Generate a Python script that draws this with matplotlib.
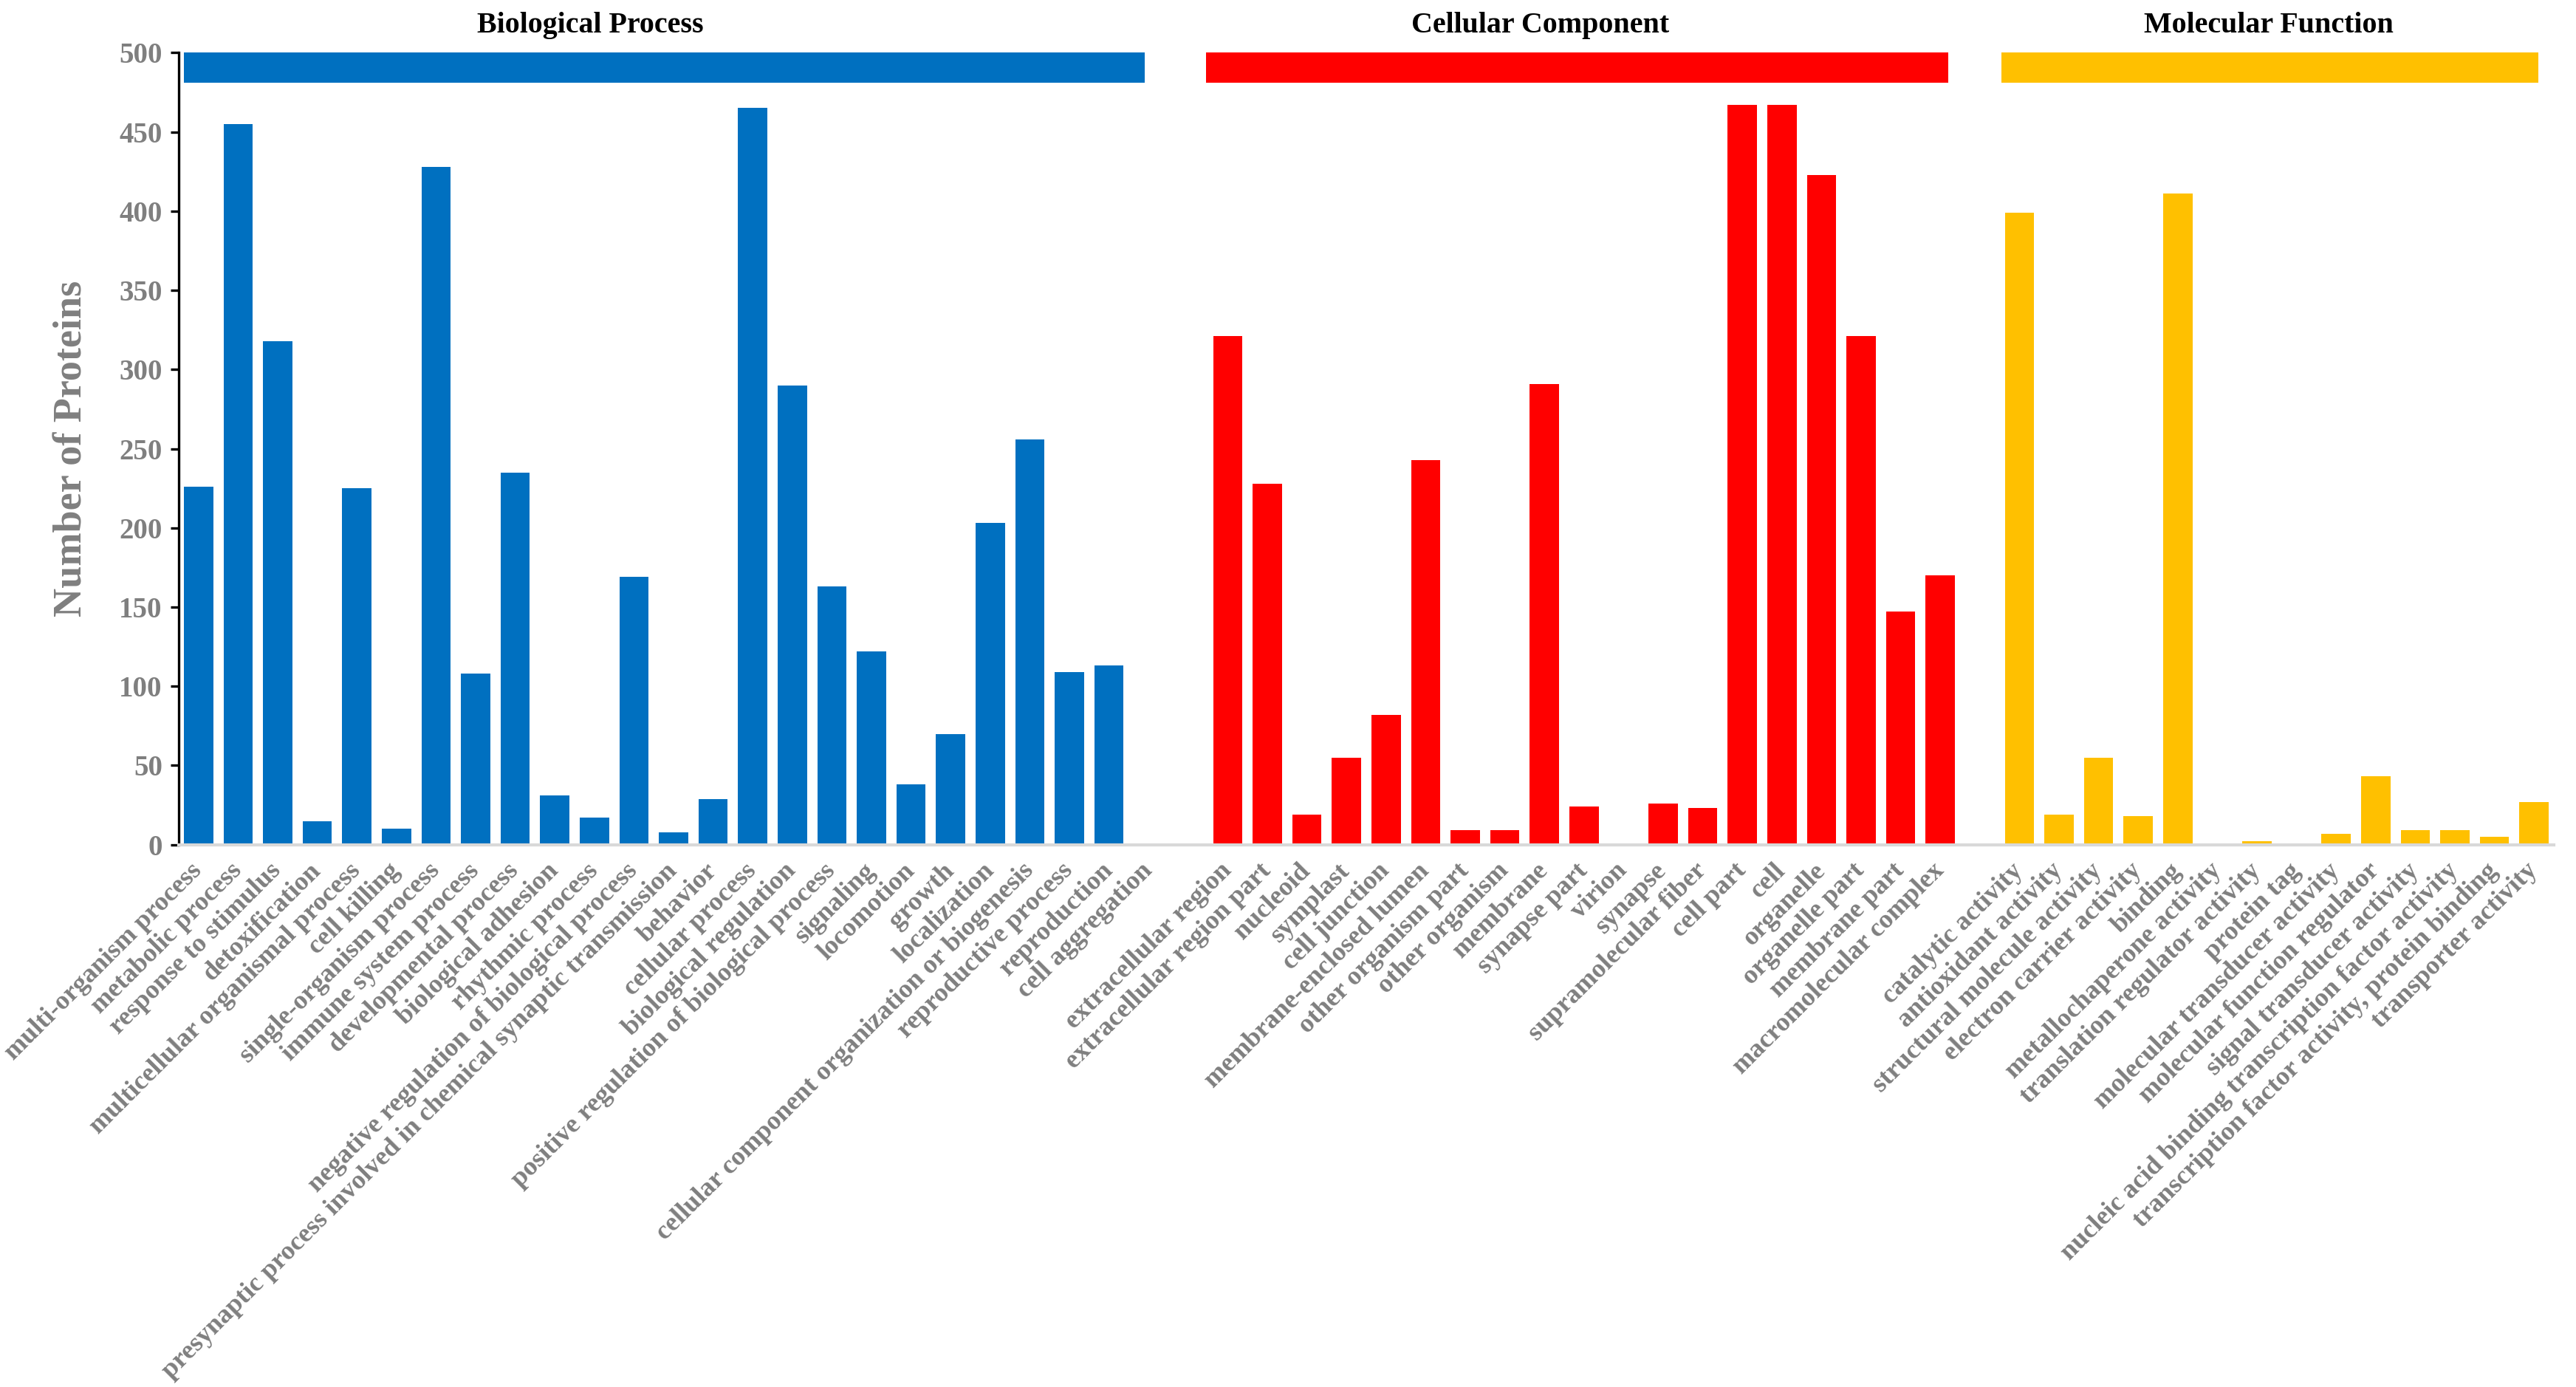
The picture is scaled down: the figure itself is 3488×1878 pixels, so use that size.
import numpy as np
import matplotlib
matplotlib.use("Agg")
import matplotlib.pyplot as plt
from matplotlib.patches import Rectangle

plt.rcParams['font.family'] = ['Liberation Serif', 'DejaVu Serif']
plt.rcParams['font.weight'] = 'bold'

# ---- data ----
bp_terms = ["multi-organism process", "metabolic process", "response to stimulus",
            "detoxification", "multicellular organismal process", "cell killing",
            "single-organism process", "immune system process", "developmental process",
            "biological adhesion", "rhythmic process",
            "negative regulation of biological process",
            "presynaptic process involved in chemical synaptic transmission",
            "behavior", "cellular process", "biological regulation",
            "positive regulation of biological process", "signaling", "locomotion",
            "growth", "localization", "cellular component organization or biogenesis",
            "reproductive process", "reproduction", "cell aggregation"]
bp_counts = [226, 455, 318, 15, 225, 10, 428, 108, 235, 31, 17, 169, 8, 29, 465,
             290, 163, 122, 38, 70, 203, 256, 109, 113, 1]

cc_terms = ["extracellular region", "extracellular region part", "nucleoid", "symplast",
            "cell junction", "membrane-enclosed lumen", "other organism part",
            "other organism", "membrane", "synapse part", "virion", "synapse",
            "supramolecular fiber", "cell part", "cell", "organelle", "organelle part",
            "membrane part", "macromolecular complex"]
cc_counts = [321, 228, 19, 55, 82, 243, 9, 9, 291, 24, 1, 26, 23, 467, 467, 423,
             321, 147, 170]

mf_terms = ["catalytic activity", "antioxidant activity", "structural molecule activity",
            "electron carrier activity", "binding", "metallochaperone activity",
            "translation regulator activity", "protein tag",
            "molecular transducer activity", "molecular function regulator",
            "signal transducer activity",
            "nucleic acid binding transcription factor activity",
            "transcription factor activity, protein binding", "transporter activity"]
mf_counts = [399, 19, 55, 18, 411, 1, 2, 1, 7, 43, 9, 9, 5, 27]

groups = ["Biological Process", "Cellular Component", "Molecular Function"]
colors = ["#0070C0", "#FF0000", "#FFC000"]

grey = "#7F7F7F"

fig = plt.figure(figsize=(17.44, 9.39), dpi=200)
ax = fig.add_axes([0.0694, 0.391, 0.922, 0.571])

terms_all = [bp_terms, cc_terms, mf_terms]
counts_all = [bp_counts, cc_counts, mf_counts]

ticks = []
labels = []
start = 0
for g, (terms, counts, col) in enumerate(zip(terms_all, counts_all, colors)):
    x = np.arange(start, start + len(terms))
    ax.bar(x, counts, width=0.74, color=col, edgecolor='none', zorder=2)
    ticks += list(x)
    labels += terms
    # group header strip and title
    if g == 0:
        x0, x1, tx = x[0] - 0.37, x[-1] - 0.1, 9.9
    elif g == 1:
        x0, x1, tx = x[0] - 0.55, x[-1] + 0.2, 33.9
    else:
        x0, x1, tx = x[0] - 0.45, x[-1] + 0.1, 52.3
    ax.add_patch(Rectangle((x0, 481), x1 - x0, 19, facecolor=col,
                           edgecolor='none', clip_on=False, zorder=3))
    ax.text(tx, 517, groups[g], ha='center', va='center', fontsize=14.4,
            fontweight='bold', color='black')
    start += len(terms) + 1

ax.set_xlim(-0.5, start - 1.5)
ax.set_ylim(0, 500)
ax.set_yticks(np.arange(0, 501, 50))
ax.tick_params(axis='y', labelsize=14, labelcolor=grey, length=4, width=1.2,
               color='black', pad=4)
ax.set_xticks(ticks)
ax.set_xticklabels(labels, rotation=45, ha='right', va='center',
                   rotation_mode='anchor', fontsize=13, color=grey)
ax.tick_params(axis='x', length=0, pad=11)

ax.spines['top'].set_visible(False)
ax.spines['right'].set_visible(False)
ax.spines['left'].set_color('black')
ax.spines['left'].set_linewidth(1.2)
ax.spines['bottom'].set_color('#D9D9D9')
ax.spines['bottom'].set_linewidth(1.5)

ax.set_ylabel("Number of Proteins", fontsize=19.5, color=grey, fontweight='bold',
              labelpad=14)

fig.savefig("out.png", dpi=200)
